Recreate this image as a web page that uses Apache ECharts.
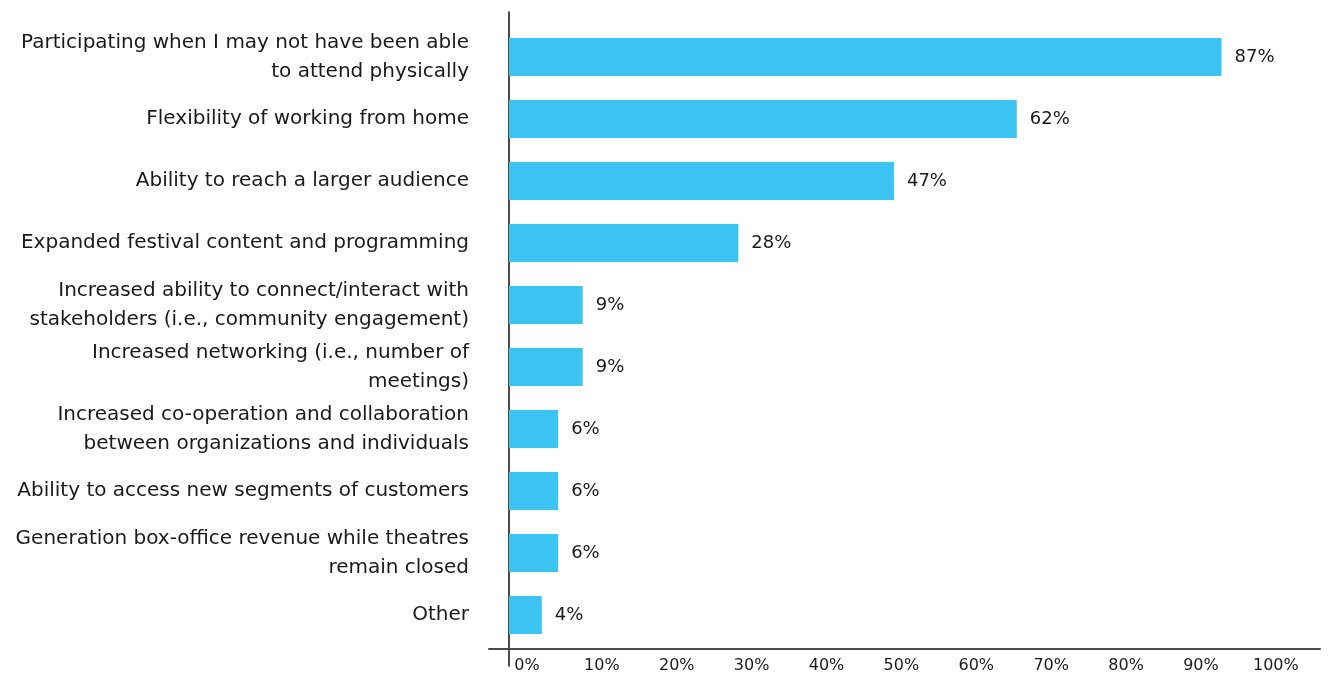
<!DOCTYPE html>
<html>
<head>
<meta charset="utf-8">
<script src="https://cdn.jsdelivr.net/npm/echarts@6/dist/echarts.min.js"></script>
<style>html,body{margin:0;padding:0;background:#fff}#chart{width:1329px;height:675px}</style>
</head>
<body>
<div id="chart"></div>
<script>
const categories = [
  "Participating when I may not have been able\nto attend physically",
  "Flexibility of working from home",
  "Ability to reach a larger audience",
  "Expanded festival content and programming",
  "Increased ability to connect/interact with\nstakeholders (i.e., community engagement)",
  "Increased networking (i.e., number of\nmeetings)",
  "Increased co-operation and collaboration\nbetween organizations and individuals",
  "Ability to access new segments of customers",
  "Generation box-office revenue while theatres\nremain closed",
  "Other"
];
const values = [87, 62, 47, 28, 9, 9, 6, 6, 6, 4];
const tickValues = [0, 10, 20, 30, 40, 50, 60, 70, 80, 90, 100];

const FONT = "DejaVu Sans";
const chart = echarts.init(document.getElementById('chart'));
chart.setOption({
  animation: false,
  backgroundColor: '#fff',
  textStyle: { fontFamily: FONT },
  grid: [
    { left: 509, width: 819, top: 26, height: 620 },
    { left: 509, right: 0, top: 12, bottom: 9 },
    { left: 489, right: 9, top: 640, height: 9 }
  ],
  xAxis: [
    { gridIndex: 0, type: 'value', min: 0, max: 100, show: false },
    { gridIndex: 1, type: 'value', min: 0, max: 100, show: false },
    { gridIndex: 2, type: 'value', min: -5.07, max: 105.9,
      axisLine: { show: true, lineStyle: { color: '#4a4a4a', width: 2 } },
      axisTick: { show: false },
      splitLine: { show: false },
      axisLabel: { customValues: tickValues, formatter: '{value}%', color: '#1a1a1a', fontSize: 16, margin: 9, fontFamily: FONT } }
  ],
  yAxis: [
    { gridIndex: 0, type: 'category', data: categories, inverse: true,
      axisLine: { show: false }, axisTick: { show: false },
      axisLabel: { color: '#1a1a1a', fontSize: 20, lineHeight: 29, margin: 40, align: 'right', fontFamily: FONT } },
    { gridIndex: 1, type: 'value', min: 0, max: 1,
      axisLine: { show: true, lineStyle: { color: '#111', width: 1.5 } },
      axisTick: { show: false }, axisLabel: { show: false }, splitLine: { show: false } },
    { gridIndex: 2, type: 'value', show: false }
  ],
  series: [{
    type: 'bar',
    xAxisIndex: 0, yAxisIndex: 0,
    data: values,
    barWidth: 38,
    itemStyle: { color: '#3BC4F2' },
    label: { show: true, position: 'right', distance: 13, formatter: '{c}%', color: '#1a1a1a', fontSize: 18, fontFamily: FONT }
  }]
});
</script>
</body>
</html>
